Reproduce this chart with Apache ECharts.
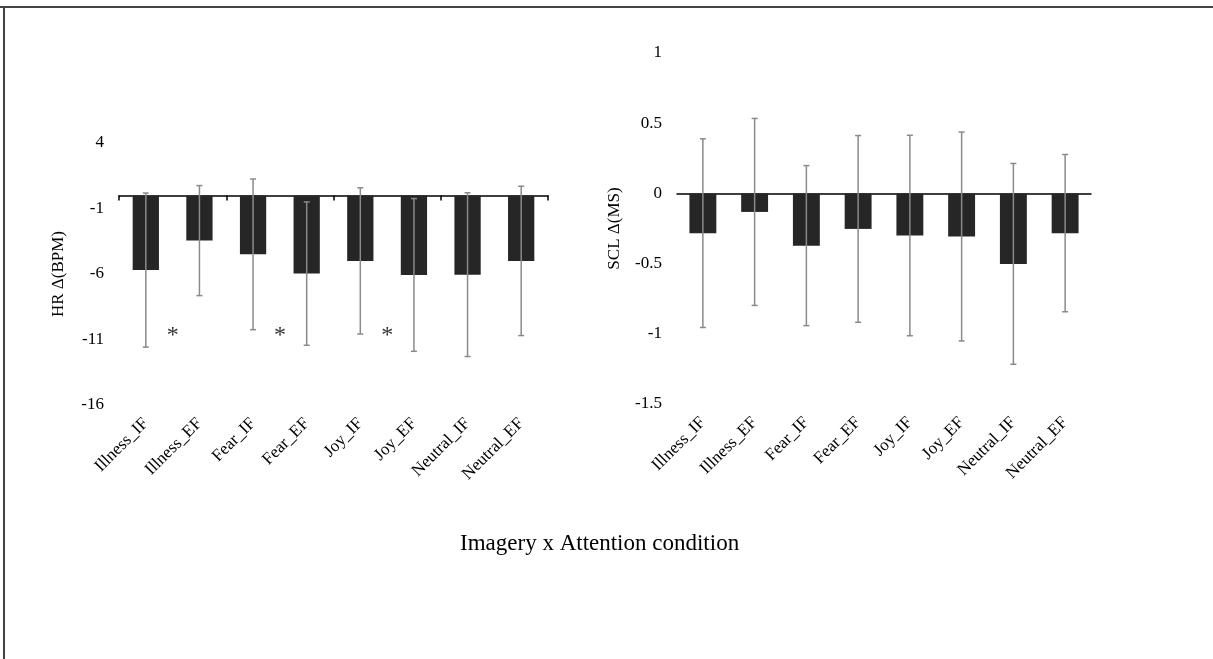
<!DOCTYPE html>
<html>
<head>
<meta charset="utf-8">
<script src="https://cdn.jsdelivr.net/npm/echarts@6/dist/echarts.min.js"></script>
<style>
html,body{margin:0;padding:0;background:#fff;}
#chart{width:1213px;height:659px;}
</style>
</head>
<body>
<div id="chart"></div>
<script>
// ---- data ----
const categories = ['Illness_IF','Illness_EF','Fear_IF','Fear_EF','Joy_IF','Joy_EF','Neutral_IF','Neutral_EF'];
const hrMean = [-5.7, -3.45, -4.5, -5.97, -5.0, -6.07, -6.05, -5.0];
const hrErr  = [5.88, 4.2, 5.75, 5.47, 5.58, 5.83, 6.25, 5.7];
const sclMean = [-0.283, -0.132, -0.372, -0.253, -0.3, -0.307, -0.502, -0.283];
const sclErr  = [0.672, 0.666, 0.57, 0.665, 0.714, 0.744, 0.715, 0.56];
const sigIndex = [0, 2, 4];
const sigLevel = -10.7;
const hrTicks = [-16, -11, -6, -1, 4];
const xTitle = 'Imagery x Attention condition';
const hrName = 'HR Δ(BPM)';
const sclName = 'SCL Δ(MS)';

const FONT = "'Liberation Serif','Times New Roman',serif";
const chart = echarts.init(document.getElementById('chart'), null, {renderer:'canvas'});

function errData(mean, err){ return mean.map((m,i)=>[i, m-err[i], m+err[i]]); }

function errRender(params, api){
  const x = api.value(0);
  const lo = api.coord([x, api.value(1)]);
  const hi = api.coord([x, api.value(2)]);
  const cap = 3;
  const st = {stroke:'#8a8a8a', lineWidth:1.5};
  return {type:'group', children:[
    {type:'line', shape:{x1:lo[0],y1:lo[1],x2:hi[0],y2:hi[1]}, style:st},
    {type:'line', shape:{x1:lo[0]-cap,y1:lo[1],x2:lo[0]+cap,y2:lo[1]}, style:st},
    {type:'line', shape:{x1:hi[0]-cap,y1:hi[1],x2:hi[0]+cap,y2:hi[1]}, style:st}
  ]};
}

function starRender(params, api){
  const p = api.coord([api.value(0), api.value(1)]);
  const w = api.size([1,0])[0];
  return {type:'text', x:p[0]+w/2, y:p[1], style:{text:'*', font:'24px '+FONT, fill:'#333', align:'center', verticalAlign:'middle'}};
}

const labelAxis = (gi) => ({
  type:'category', gridIndex:gi, data:categories, position:'bottom',
  axisLine:{show:false, onZero:false}, axisTick:{show:false},
  axisLabel:{rotate:45, margin:16, fontFamily:FONT, fontSize:17, color:'#000', interval:0}
});
const lineAxis = (gi, ticks) => ({
  type:'category', gridIndex:gi, data:categories, position:'bottom',
  axisLine:{show:true, onZero:true, lineStyle:{color:'#000', width:1.5}},
  axisTick:{show:ticks, length:5, lineStyle:{color:'#000', width:1.5}},
  axisLabel:{show:false}
});

const option = {
  animation:false,
  title:{text:xTitle, left:455, top:527, textStyle:{fontFamily:FONT, fontSize:23, fontWeight:'normal', color:'#000'}},
  graphic:[
    {type:'line', shape:{x1:0,y1:7,x2:1213,y2:7}, style:{stroke:'#444', lineWidth:2}},
    {type:'line', shape:{x1:4,y1:7,x2:4,y2:659}, style:{stroke:'#444', lineWidth:2}}
  ],
  grid:[
    {left:119, top:143, width:429, height:262},
    {left:677, top:53, width:414, height:351}
  ],
  xAxis:[ lineAxis(0,true), labelAxis(0), lineAxis(1,false), labelAxis(1) ],
  yAxis:[
    {type:'value', gridIndex:0, min:-16, max:4, interval:1,
     name:hrName, nameLocation:'middle', nameGap:52, nameRotate:90,
     nameTextStyle:{fontFamily:FONT, fontSize:17, color:'#000'},
     axisLine:{show:false}, axisTick:{show:false}, splitLine:{show:false},
     axisLabel:{margin:15, fontFamily:FONT, fontSize:17, color:'#000',
       formatter:(v)=> hrTicks.indexOf(Math.round(v))>=0 ? String(Math.round(v)) : ''}},
    {type:'value', gridIndex:1, min:-1.5, max:1, interval:0.5,
     name:sclName, nameLocation:'middle', nameGap:54, nameRotate:90,
     nameTextStyle:{fontFamily:FONT, fontSize:17, color:'#000'},
     axisLine:{show:false}, axisTick:{show:false}, splitLine:{show:false},
     axisLabel:{margin:15, fontFamily:FONT, fontSize:17, color:'#000'}}
  ],
  series:[
    {type:'bar', xAxisIndex:0, yAxisIndex:0, data:hrMean, barWidth:'49%', itemStyle:{color:'#262626'}},
    {type:'custom', xAxisIndex:0, yAxisIndex:0, data:errData(hrMean,hrErr), renderItem:errRender, z:5},
    {type:'custom', xAxisIndex:0, yAxisIndex:0, data:sigIndex.map(i=>[i, sigLevel]), renderItem:starRender, z:5},
    {type:'bar', xAxisIndex:2, yAxisIndex:1, data:sclMean, barWidth:'52%', itemStyle:{color:'#262626'}},
    {type:'custom', xAxisIndex:2, yAxisIndex:1, data:errData(sclMean,sclErr), renderItem:errRender, z:5}
  ]
};
chart.setOption(option);
</script>
</body>
</html>
